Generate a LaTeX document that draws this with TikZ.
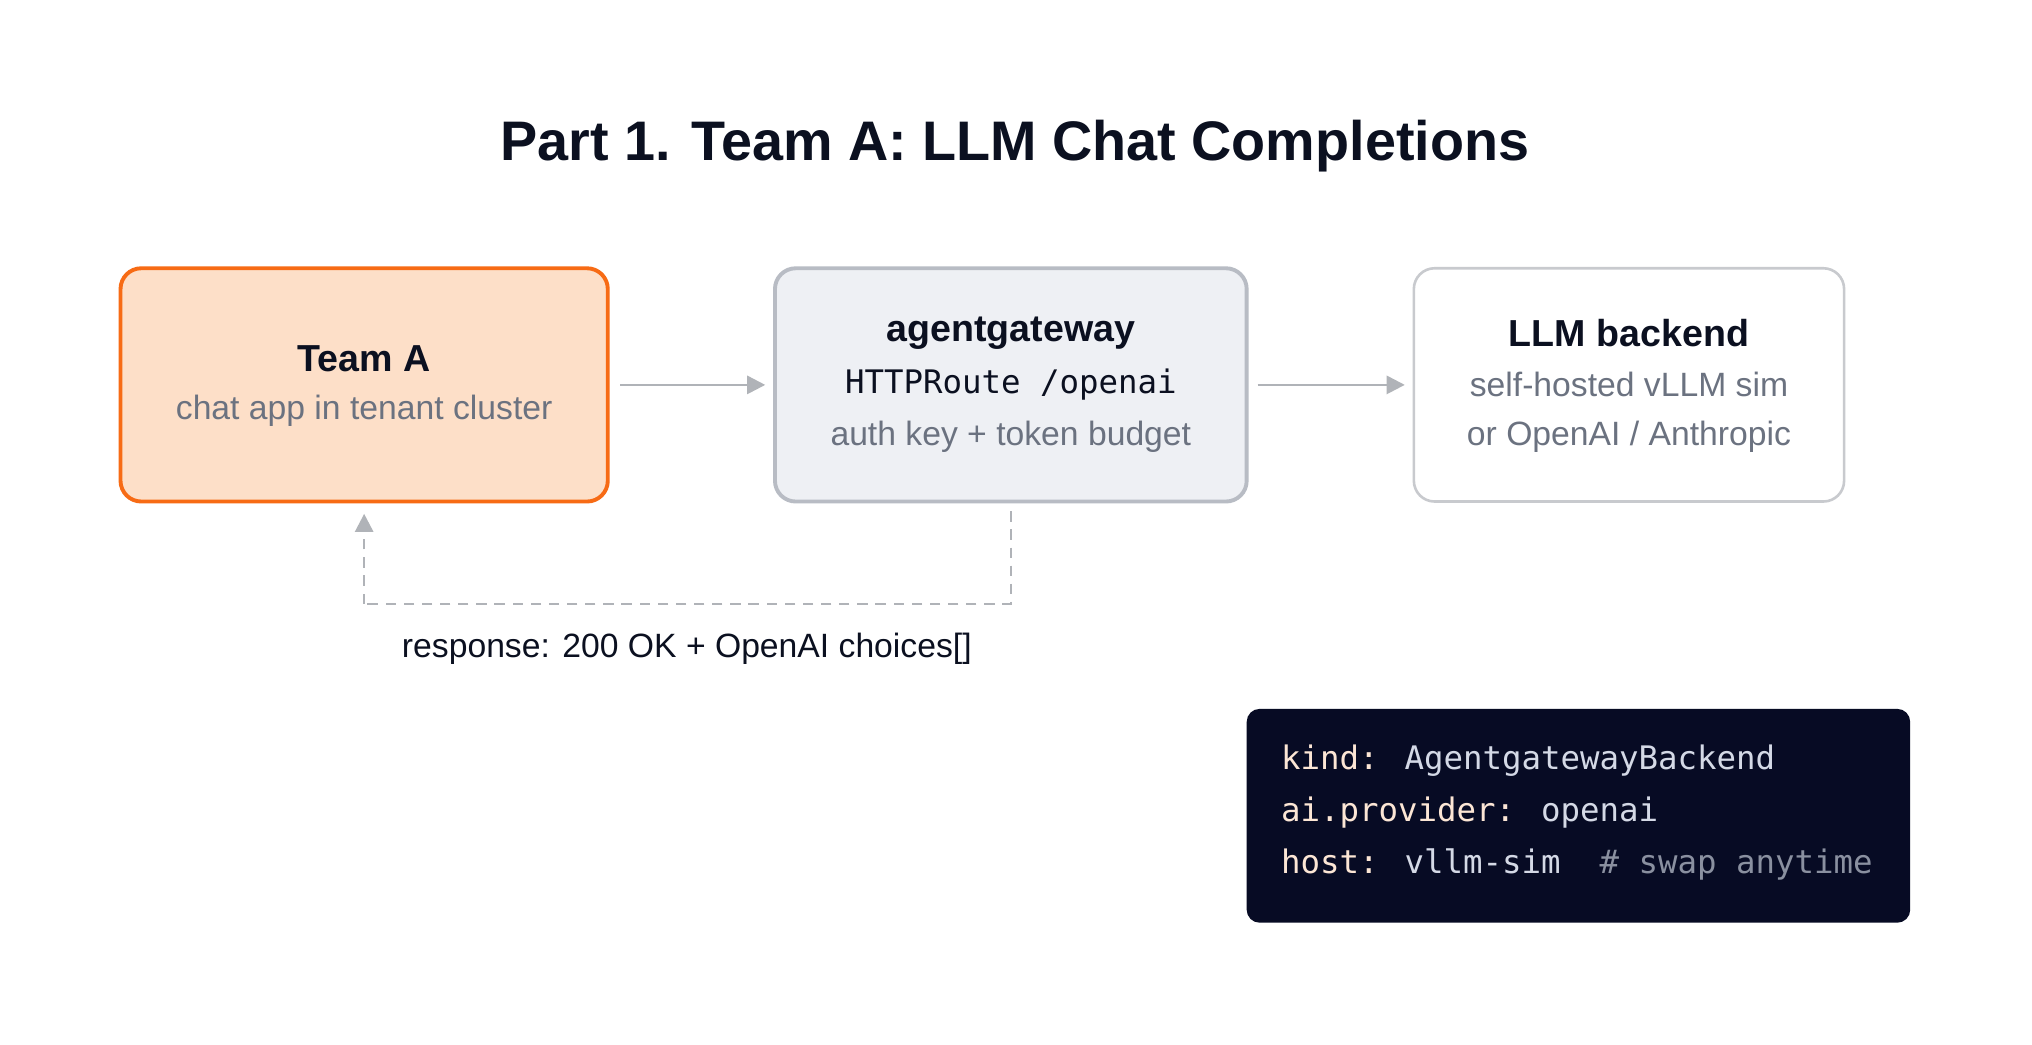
\documentclass[tikz,border=0pt]{standalone}
\usepackage{fontspec}
\setmainfont{Liberation Sans}
\newfontfamily\codefont{DejaVu Sans Mono}
\usetikzlibrary{arrows.meta}
\definecolor{ink}{HTML}{0B1020}
\definecolor{sub}{HTML}{6B7280}
\definecolor{orng}{HTML}{F76B15}
\definecolor{peach}{HTML}{FDDFC8}
\definecolor{gwfill}{HTML}{EEF0F4}
\definecolor{gwline}{HTML}{B8BCC4}
\definecolor{llmline}{HTML}{C8CACE}
\definecolor{arr}{HTML}{B0B3B8}
\definecolor{codebg}{HTML}{070B24}
\definecolor{ckey}{HTML}{FCE6D5}
\definecolor{cval}{HTML}{D4D9E6}
\definecolor{ccom}{HTML}{8A90A0}
\tikzset{
 box/.style={rounded corners=16pt, minimum width=#1, minimum height=180pt, inner sep=0pt},
 ttl/.style={font=\fontsize{29}{32}\selectfont\bfseries, text=ink},
 sbl/.style={font=\fontsize{26}{29}\selectfont, text=sub},
 mono/.style={font=\fontsize{25}{28}\selectfont\codefont},
 flow/.style={draw=arr, line width=2pt, -{Triangle[length=14pt,width=14pt]}},
}
\begin{document}
\begin{tikzpicture}[x=1pt,y=-1pt]
\useasboundingbox (0,0) rectangle (1568,806);
\fill[white] (0,0) rectangle (1568,806);
\node[font=\fontsize{43}{48}\selectfont\bfseries, text=ink] (title) at (783,113) {Part 1. Team A: LLM Chat Completions};

\node[box=376pt, fill=peach, draw=orng, line width=3pt] (teamA) at (281,297) {};
\node[ttl] (teamAt) at (281,277) {Team A};
\node[sbl] (teamAs) at (281,317) {chat app in tenant cluster};

\node[box=364pt, fill=gwfill, draw=gwline, line width=3pt] (gw) at (780,297) {};
\node[ttl] (gwt) at (780,257) {agentgateway};
\node[mono, text=ink] (gwm) at (780,297) {HTTPRoute /openai};
\node[sbl] (gws) at (780,337) {auth key + token budget};

\node[box=332pt, fill=white, draw=llmline, line width=2pt] (llm) at (1257,297) {};
\node[ttl] (llmt) at (1257,257) {LLM backend};
\node[sbl] (llms1) at (1257,297) {self-hosted vLLM sim};
\node[sbl] (llms2) at (1257,337) {or OpenAI / Anthropic};

\draw[flow] ([xshift=8pt]teamA.east) -- ([xshift=-6pt]gw.west);
\draw[flow] ([xshift=7pt]gw.east) -- ([xshift=-6pt]llm.west);

\coordinate (d1) at (780,466);
\coordinate (d2) at (281,466);
\draw[draw=arr, line width=2pt, dash pattern=on 8pt off 6pt] ([yshift=-6pt]gw.south) -- (d1) -- (d2);
\draw[draw=arr, line width=2pt, dash pattern=on 8pt off 6pt, -{Triangle[length=14pt,width=14pt]}] (d2) -- ([yshift=-8pt]teamA.south);
\node[font=\fontsize{26}{29}\selectfont, text=ink] (resp) at (530,501) {response: 200 OK + OpenAI choices[]};

\node[fill=codebg, rounded corners=10pt, minimum width=512pt, minimum height=165pt] (code) at (1218,629.5) {};
\node[mono, anchor=west] (c1) at (985,587) {\textcolor{ckey}{kind:} \textcolor{cval}{AgentgatewayBackend}};
\node[mono, anchor=west] (c2) at (985,627) {\textcolor{ckey}{ai.provider:} \textcolor{cval}{openai}};
\node[mono, anchor=west] (c3) at (985,667) {\textcolor{ckey}{host:} \textcolor{cval}{vllm-sim}\ \ \textcolor{ccom}{\#\ swap anytime}};
\end{tikzpicture}
\end{document}
